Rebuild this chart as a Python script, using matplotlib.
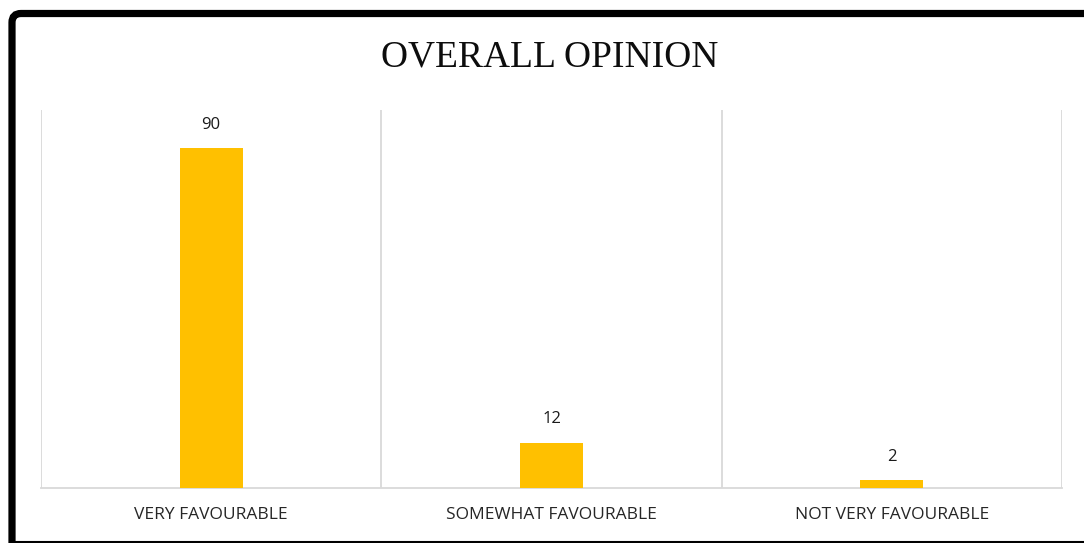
import matplotlib.pyplot as plt
from matplotlib.patches import FancyBboxPatch
from matplotlib.lines import Line2D

categories = ["VERY FAVOURABLE", "SOMEWHAT FAVOURABLE", "NOT VERY FAVOURABLE"]
values = [90, 12, 2]

W, H = 1084, 543
fig = plt.figure(figsize=(W / 100, H / 100), dpi=100, facecolor="white")

ax = fig.add_axes([41 / W, 1 - 488 / H, (1062 - 41) / W, (488 - 110) / H])
x = list(range(len(categories)))
bars = ax.bar(x, values, width=0.185, color="#ffc000", zorder=3)
ax.set_xlim(-0.5, 2.5)
ax.set_ylim(0, 100)

# vertical separators between categories
for gx in [-0.5, 0.5, 1.5, 2.5]:
    ax.axvline(gx, color="#d9d9d9", lw=1.3, zorder=1)

for s in ["top", "left", "right"]:
    ax.spines[s].set_visible(False)
ax.spines["bottom"].set_color("#d9d9d9")
ax.spines["bottom"].set_linewidth(1.3)
ax.set_yticks([])
ax.set_xticks(x)
ax.set_xticklabels(categories, fontsize=12.5, family="Open Sans", color="#262626")
ax.tick_params(axis="x", length=0, pad=14)

for b, v in zip(bars, values):
    ax.annotate(str(v), (b.get_x() + b.get_width() / 2, v), xytext=(0, 11),
                textcoords="offset points", ha="center", va="bottom",
                fontsize=12, family="Open Sans", color="#1a1a1a")

fig.text(550 / W, 1 - 57 / H, "OVERALL OPINION", ha="center", va="center",
         fontsize=27, family="Liberation Serif", color="#0d0d0d")

# outer frame: thick left/top with a rounded corner, thin bottom line
frame = FancyBboxPatch((12, -40), 1200, H - 13.5 + 40,
                       boxstyle="round,pad=0,rounding_size=9",
                       transform=None, fill=False, ec="black", lw=5.2)
fig.patches.append(frame)
fig.lines.append(Line2D([12, W], [1.5, 1.5], transform=None, color="black", lw=1.5))

fig.savefig("out.png", dpi=100)
